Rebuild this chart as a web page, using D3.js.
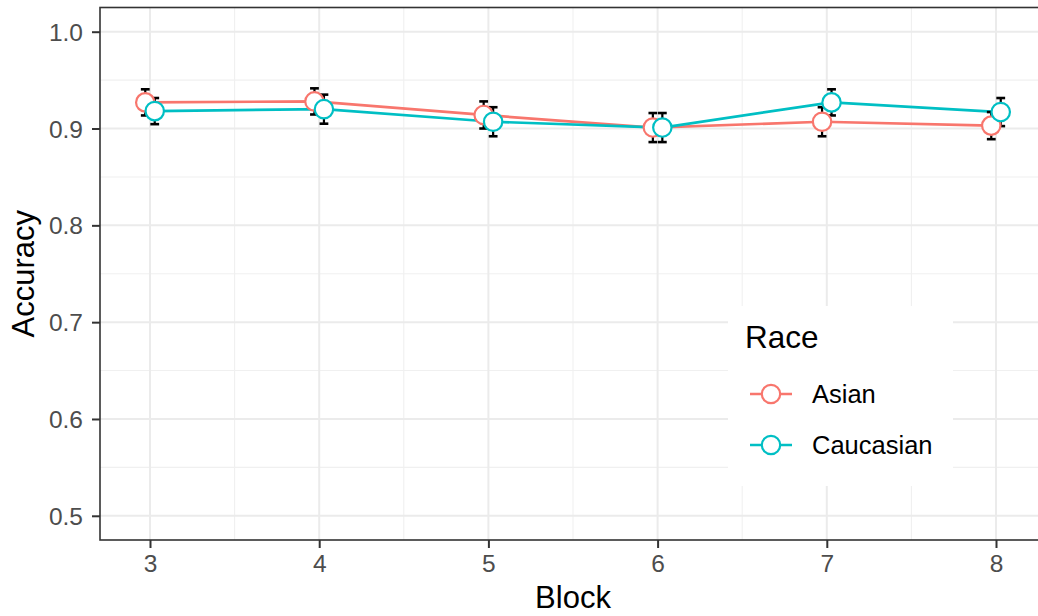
<!DOCTYPE html>
<html>
<head>
<meta charset="utf-8">
<script src="https://cdn.jsdelivr.net/npm/d3@7"></script>
<style>
  html, body { margin: 0; padding: 0; background: #fff; }
  svg { display: block; font-family: "Liberation Sans", Arial, Helvetica, sans-serif; }
</style>
</head>
<body>
<div id="chart"></div>
<script>
// ---- data ----
const blocks = [3, 4, 5, 6, 7, 8];
const races = ["Asian", "Caucasian"];
const asianAcc = [0.927, 0.928, 0.914, 0.901, 0.907, 0.903];
const asianSE = [0.0135, 0.0135, 0.014, 0.015, 0.015, 0.014];
const caucasianAcc = [0.918, 0.920, 0.907, 0.901, 0.927, 0.917];
const caucasianSE = [0.0135, 0.015, 0.015, 0.015, 0.0135, 0.0145];
const yTicks = [0.5, 0.6, 0.7, 0.8, 0.9, 1.0];
const yMinor = [0.55, 0.65, 0.75, 0.85, 0.95];
const xMinor = [3.5, 4.5, 5.5, 6.5, 7.5, 8.5];
const colors = ["#F8766D", "#00BFC4"];

const series = [
  { name: races[0], acc: asianAcc, se: asianSE, color: colors[0], dodge: -1 },
  { name: races[1], acc: caucasianAcc, se: caucasianSE, color: colors[1], dodge: 1 }
];

// ---- layout ----
const W = 1038, H = 616;
const panel = { left: 100, top: 7.5, right: 1046, bottom: 540 };

const x = d3.scaleLinear()
  .domain([2.7045, 8.2955])
  .range([panel.left, panel.right]);
const y = d3.scaleLinear()
  .domain([0.475, 1.025])
  .range([panel.bottom, panel.top]);

const dodgeW = 0.028;
const capW = 0.026;

const svg = d3.select("#chart").append("svg")
  .attr("width", W).attr("height", H);

svg.append("rect")
  .attr("x", panel.left).attr("y", panel.top)
  .attr("width", panel.right - panel.left).attr("height", panel.bottom - panel.top)
  .attr("fill", "#fff");

const grid = svg.append("g");
grid.selectAll("line.ymin").data(yMinor).join("line")
  .attr("x1", panel.left).attr("x2", panel.right)
  .attr("y1", d => y(d)).attr("y2", d => y(d))
  .attr("stroke", "#F0F0F0").attr("stroke-width", 1.1);
grid.selectAll("line.xmin").data(xMinor).join("line")
  .attr("y1", panel.top).attr("y2", panel.bottom)
  .attr("x1", d => x(d)).attr("x2", d => x(d))
  .attr("stroke", "#F0F0F0").attr("stroke-width", 1.1);
grid.selectAll("line.ymaj").data(yTicks).join("line")
  .attr("x1", panel.left).attr("x2", panel.right)
  .attr("y1", d => y(d)).attr("y2", d => y(d))
  .attr("stroke", "#EBEBEB").attr("stroke-width", 2);
grid.selectAll("line.xmaj").data(blocks).join("line")
  .attr("y1", panel.top).attr("y2", panel.bottom)
  .attr("x1", d => x(d)).attr("x2", d => x(d))
  .attr("stroke", "#EBEBEB").attr("stroke-width", 2);

// lines
const line = d3.line()
  .x((d, i) => x(blocks[i] + d.dodge * dodgeW))
  .y(d => y(d.v));
series.forEach(s => {
  const pts = s.acc.map(v => ({ v, dodge: s.dodge }));
  svg.append("path")
    .datum(pts)
    .attr("d", line)
    .attr("fill", "none")
    .attr("stroke", s.color)
    .attr("stroke-width", 2.7);
});

// error bars
series.forEach(s => {
  const g = svg.append("g");
  s.acc.forEach((v, i) => {
    const cx = blocks[i] + s.dodge * dodgeW;
    const lo = v - s.se[i], hi = v + s.se[i];
    g.append("line")
      .attr("x1", x(cx)).attr("x2", x(cx))
      .attr("y1", y(lo)).attr("y2", y(hi))
      .attr("stroke", "#000").attr("stroke-width", 2.2);
    [lo, hi].forEach(e => {
      g.append("line")
        .attr("x1", x(cx - capW)).attr("x2", x(cx + capW))
        .attr("y1", y(e)).attr("y2", y(e))
        .attr("stroke", "#000").attr("stroke-width", 2.6);
    });
  });
});

// points
series.forEach(s => {
  svg.append("g").selectAll("circle").data(s.acc).join("circle")
    .attr("cx", (d, i) => x(blocks[i] + s.dodge * dodgeW))
    .attr("cy", d => y(d))
    .attr("r", 9.2)
    .attr("fill", "#fff")
    .attr("stroke", s.color)
    .attr("stroke-width", 2.2);
});

// panel border
svg.append("rect")
  .attr("x", panel.left).attr("y", panel.top)
  .attr("width", panel.right - panel.left).attr("height", panel.bottom - panel.top)
  .attr("fill", "none").attr("stroke", "#333").attr("stroke-width", 1.6);

// axes
const yAxis = d3.axisLeft(y).tickValues(yTicks).tickFormat(d3.format(".1f"))
  .tickSize(8).tickPadding(6);
const yg = svg.append("g").attr("transform", `translate(${panel.left},0)`).call(yAxis);
const xAxis = d3.axisBottom(x).tickValues(blocks).tickFormat(d3.format("d"))
  .tickSize(8).tickPadding(6);
const xg = svg.append("g").attr("transform", `translate(0,${panel.bottom})`).call(xAxis);
[yg, xg].forEach(g => {
  g.select(".domain").remove();
  g.selectAll(".tick line").attr("stroke", "#333").attr("stroke-width", 2);
  g.selectAll(".tick text")
    .attr("fill", "#4D4D4D")
    .style("font-size", "24.5px")
    .style("font-family", "'Liberation Sans', Arial, sans-serif");
});
yg.selectAll(".tick text").attr("x", -17).attr("dy", "0.35em");
xg.selectAll(".tick text").attr("y", 15).attr("dy", "0.71em");

// axis titles
svg.append("text")
  .attr("x", (panel.left + panel.right) / 2).attr("y", 608)
  .attr("text-anchor", "middle")
  .style("font-size", "31px").attr("fill", "#000")
  .text("Block");
svg.append("text")
  .attr("transform", `translate(34,${(panel.top + panel.bottom) / 2}) rotate(-90)`)
  .attr("text-anchor", "middle")
  .style("font-size", "31px").attr("fill", "#000")
  .text("Accuracy");

// legend
const lg = svg.append("g");
lg.append("rect")
  .attr("x", 728).attr("y", 306).attr("width", 225).attr("height", 180)
  .attr("fill", "#fff");
lg.append("text")
  .attr("x", 745).attr("y", 348)
  .style("font-size", "31.5px").attr("fill", "#000")
  .text("Race");
series.forEach((s, i) => {
  const cy = 394 + i * 51;
  lg.append("line")
    .attr("x1", 750).attr("x2", 792).attr("y1", cy).attr("y2", cy)
    .attr("stroke", s.color).attr("stroke-width", 2.7);
  lg.append("circle")
    .attr("cx", 771).attr("cy", cy).attr("r", 9.2)
    .attr("fill", "#fff").attr("stroke", s.color).attr("stroke-width", 2.2);
  lg.append("text")
    .attr("x", 812).attr("y", cy + 9)
    .style("font-size", "25.5px").attr("fill", "#000")
    .text(s.name);
});
</script>
</body>
</html>
